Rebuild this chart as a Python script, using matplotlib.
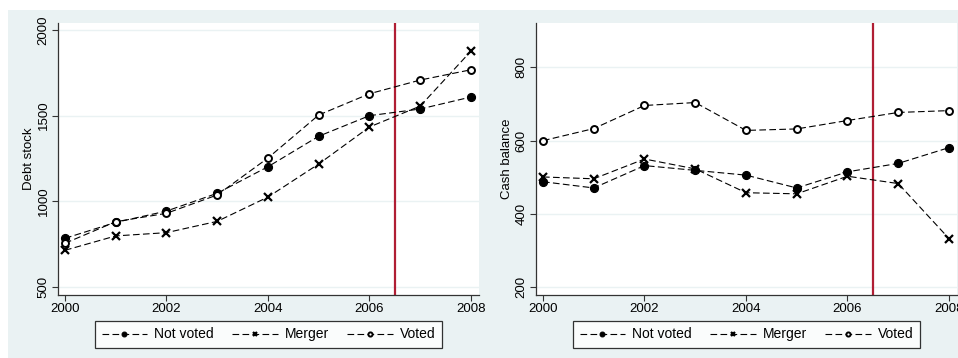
import matplotlib
matplotlib.use("Agg")
import matplotlib.pyplot as plt

plt.rcParams['font.family'] = ['Liberation Sans', 'DejaVu Sans']

years = [2000, 2001, 2002, 2003, 2004, 2005, 2006, 2007, 2008]

debt_not_voted = [784, 877, 943, 1047, 1202, 1380, 1500, 1539, 1609]
debt_merger = [714, 798, 817, 883, 1025, 1218, 1434, 1556, 1877]
debt_voted = [755, 881, 930, 1037, 1253, 1504, 1628, 1708, 1768]

cash_not_voted = [488, 471, 532, 519, 506, 471, 515, 538, 581]
cash_merger = [501, 496, 550, 523, 458, 455, 503, 483, 333]
cash_voted = [600, 633, 696, 704, 628, 632, 655, 677, 682]

xticks = [2000, 2002, 2004, 2006, 2008]
debt_ticks = [500, 1000, 1500, 2000]
cash_ticks = [200, 400, 600, 800]
cutoff = 2006.5

W, H = 958, 358
bg = '#EAF2F3'
red = '#B01E34'

fig = plt.figure(figsize=(W / 100, H / 100), dpi=100)
# outer graph region (light blue-grey), white strip at top and left
back = fig.add_axes([8 / W, 0, 1 - 8 / W, (H - 10) / H], zorder=-10)
back.set_facecolor(bg)
back.set_xticks([])
back.set_yticks([])
for s in back.spines.values():
    s.set_visible(False)


def panel(x0, series, yticks, ylim, ylabel):
    ax = fig.add_axes([x0 / W, 63 / H, 421 / W, 272 / H])
    ax.set_facecolor('white')
    styles = [('Not voted', 'o', 'black', 5.8, 0.8),
              ('Merger', 'x', 'black', 5.2, 1.6),
              ('Voted', 'o', 'white', 5.0, 1.4)]
    handles = []
    for vals, (lab, m, fc, ms, mew) in zip(series, styles):
        h, = ax.plot(years, vals, color='black', lw=0.8, dashes=(6, 3),
                     marker=m, markersize=ms, markerfacecolor=fc,
                     markeredgecolor='black', markeredgewidth=mew, label=lab, zorder=3)
        handles.append(h)
    ax.axvline(cutoff, color=red, lw=1.6, zorder=2)
    ax.set_xlim(1999.862, 2008.158)
    ax.set_ylim(*ylim)
    ax.set_xticks(xticks)
    ax.set_yticks(yticks)
    ax.grid(axis='y', color=bg, lw=1.0)
    ax.set_axisbelow(True)
    for s in ['top', 'right']:
        ax.spines[s].set_visible(False)
    for s in ['left', 'bottom']:
        ax.spines[s].set_color('#333333')
        ax.spines[s].set_linewidth(0.9)
    ax.tick_params(direction='out', length=4, width=0.8, color='#333333',
                   labelsize=9.5, pad=2)
    for t in ax.get_yticklabels():
        t.set_rotation(90)
        t.set_va('center')
    ax.set_ylabel(ylabel, fontsize=9.5, labelpad=2)
    leg = ax.legend(handles=handles, loc='center', ncol=3,
                    bbox_to_anchor=(0.5, -0.145), fontsize=10,
                    frameon=True, fancybox=False, edgecolor='black',
                    handlelength=3.3, columnspacing=1.3, handletextpad=0.5,
                    markerscale=0.6, borderpad=0.45)
    leg.get_frame().set_linewidth(0.9)
    return ax


panel(58, [debt_not_voted, debt_merger, debt_voted], debt_ticks, (453, 2041), 'Debt stock')
panel(536, [cash_not_voted, cash_merger, cash_voted], cash_ticks, (179, 921), 'Cash balance')

fig.savefig('out.png', dpi=100, facecolor='white')
